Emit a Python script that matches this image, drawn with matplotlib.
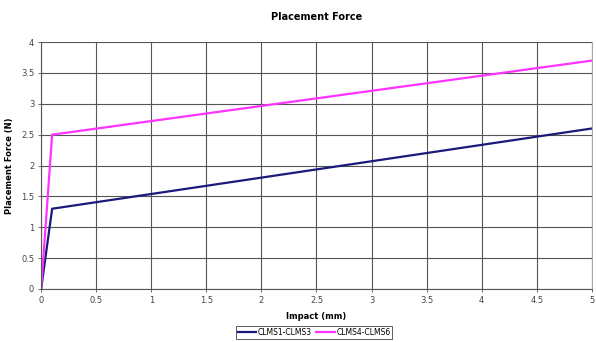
import matplotlib
matplotlib.use("Agg")
import matplotlib.pyplot as plt

x1 = [0, 0.1, 5]
y1 = [0, 1.3, 2.6]
x2 = [0, 0.1, 5]
y2 = [0, 2.5, 3.7]
labels = ["CLMS1-CLMS3", "CLMS4-CLMS6"]

fig = plt.figure(figsize=(5.96, 3.42), dpi=100)
ax = fig.add_axes([0.069, 0.155, 0.924, 0.722])
ax.plot(x1, y1, color="#1a1a7a", lw=1.6, label=labels[0])
ax.plot(x2, y2, color="#ff33ff", lw=1.6, label=labels[1])
ax.set_xlim(0, 5)
ax.set_ylim(0, 4)
ax.set_xticks([0, 0.5, 1, 1.5, 2, 2.5, 3, 3.5, 4, 4.5, 5])
ax.set_xticklabels(["0", "0.5", "1", "1.5", "2", "2.5", "3", "3.5", "4", "4.5", "5"])
ax.set_yticks([0, 0.5, 1, 1.5, 2, 2.5, 3, 3.5, 4])
ax.set_yticklabels(["0", "0.5", "1", "1.5", "2", "2.5", "3", "3.5", "4"])
ax.grid(True, color="#555555", lw=0.8)
ax.set_axisbelow(True)
ax.tick_params(labelsize=6, length=2, width=0.6, colors="#555555", labelcolor="#444444", pad=3)
for s in ["top"]:
    ax.spines[s].set_visible(False)
ax.spines["right"].set_color("#aaaaaa")
for s in ["left", "bottom"]:
    ax.spines[s].set_color("#555555")
    ax.spines[s].set_linewidth(0.8)
ax.set_title("Placement Force", fontsize=7, fontweight="bold", pad=16)
ax.set_xlabel("Impact (mm)", fontsize=6, fontweight="bold", labelpad=5)
ax.set_ylabel("Placement Force (N)", fontsize=6, fontweight="bold", labelpad=5)
leg = fig.legend(loc="center", bbox_to_anchor=(0.527, 0.028), ncol=2, fontsize=5.5,
                 frameon=True, fancybox=False, edgecolor="#333333", borderpad=0.25,
                 handlelength=2.4, columnspacing=0.6, handletextpad=0.2)
leg.get_frame().set_linewidth(0.7)
fig.savefig("out.png", dpi=100)
